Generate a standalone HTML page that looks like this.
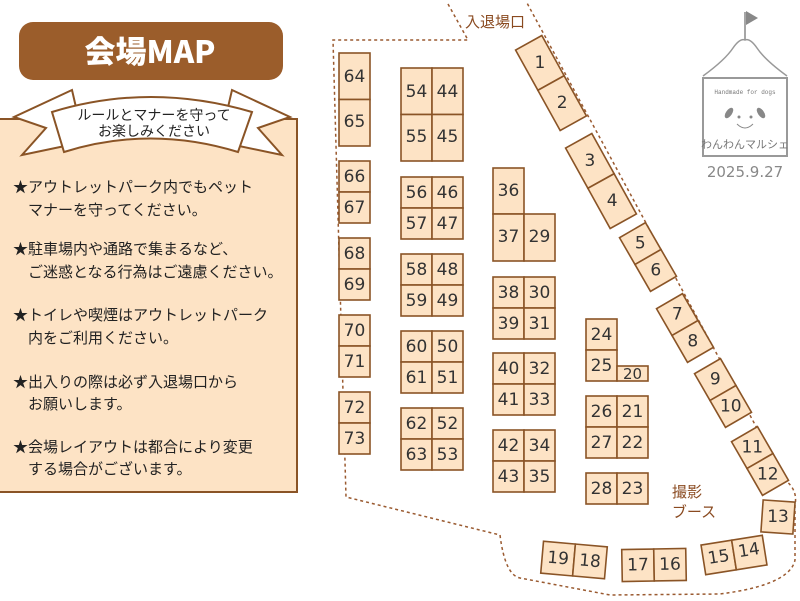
<!DOCTYPE html>
<html><head><meta charset="utf-8"><style>
html,body{margin:0;padding:0;background:#fff;}
svg{display:block;}
text{font-family:"Liberation Sans","Noto Sans CJK JP",sans-serif;}
.b{fill:#fde3c5;stroke:#8a5426;stroke-width:1.6;}
.n{font-size:17px;fill:#333;text-anchor:middle;dominant-baseline:central;font-family:"DejaVu Sans","Liberation Sans",sans-serif;}
.t{font-size:15px;fill:#222;font-family:"Noto Sans CJK JP",sans-serif;}
.d{fill:none;stroke:#9a5a30;stroke-width:1.5;stroke-dasharray:3 3;}
</style></head><body>
<svg width="800" height="601" viewBox="0 0 800 601" xmlns="http://www.w3.org/2000/svg">
<path class="d" d="M448 4 L468 40 L333 40 L346 497 L500 535 Q505 575 520 578 L610 595 L720 594 Q790 585 795 560 L795 505 Q798 490 785 480 L527 3"/>
<text x="465" y="27" style="font-size:15px;fill:#8a4a20;font-family:'Noto Sans CJK JP',sans-serif">入退場口</text>

<rect x="-2" y="119" width="299" height="373" fill="#fde3c5" stroke="#8a5426" stroke-width="2"/>
<rect x="19" y="22" width="264" height="58" rx="14" fill="#9b5d2b"/>
<text x="150" y="63" text-anchor="middle" style="font-size:31px;font-weight:900;fill:#fff;font-family:'Noto Sans CJK JP','Liberation Sans',sans-serif">会場MAP</text>
<path d="M72 90 L14 117 L46 128 L22 155 L84 142 Z" fill="#fff" stroke="#8a5426" stroke-width="2"/>
<path d="M232 90 L290 117 L258 128 L282 155 L220 142 Z" fill="#fff" stroke="#8a5426" stroke-width="2"/>
<path d="M52 112 Q150 82 252 112 L238 152 Q150 125 64 152 Z" fill="#fff" stroke="#8a5426" stroke-width="2"/>
<text x="154" y="120" text-anchor="middle" class="t" style="font-size:14px">ルールとマナーを守って</text>
<text x="154" y="136" text-anchor="middle" class="t" style="font-size:14px">お楽しみください</text>
<g class="t">
<text x="13" y="192">★アウトレットパーク内でもペット</text>
<text x="28" y="215">マナーを守ってください。</text>
<text x="13" y="254">★駐車場内や通路で集まるなど、</text>
<text x="28" y="277">ご迷惑となる行為はご遠慮ください。</text>
<text x="13" y="320">★トイレや喫煙はアウトレットパーク</text>
<text x="28" y="343">内をご利用ください。</text>
<text x="13" y="387">★出入りの際は必ず入退場口から</text>
<text x="28" y="409">お願いします。</text>
<text x="13" y="452">★会場レイアウトは都合により変更</text>
<text x="28" y="474">する場合がございます。</text>
</g>

<line x1="745" y1="12" x2="745" y2="40" stroke="#888" stroke-width="1.5"/>
<path d="M746 11 L758 18 L746 25 Z" fill="#888"/>
<path d="M703 76 Q725 60 733 48 Q740 38 745 40 Q750 38 757 48 Q765 60 787 76" fill="none" stroke="#999" stroke-width="1.5"/>
<rect x="703" y="78" width="84" height="78" fill="#fff" stroke="#999" stroke-width="2"/>
<text x="745" y="94" text-anchor="middle" style="font-size:6px;fill:#777;font-family:'Liberation Mono',monospace">Handmade for dogs</text>
<ellipse cx="729" cy="113" rx="3" ry="6" fill="#888" transform="rotate(35 729 113)"/>
<ellipse cx="761" cy="113" rx="3" ry="6" fill="#888" transform="rotate(-35 761 113)"/>
<circle cx="739" cy="117" r="1.5" fill="#888"/><circle cx="751" cy="117" r="1.5" fill="#888"/>
<path d="M737 124 Q745 132 753 124" fill="none" stroke="#888"/>
<text x="745" y="148" text-anchor="middle" style="font-size:11px;fill:#777;font-family:'Noto Sans CJK JP',sans-serif">わんわんマルシェ</text>
<text x="745" y="177" text-anchor="middle" style="font-size:15px;fill:#888;font-family:'DejaVu Sans',sans-serif">2025.9.27</text>

<text x="687" y="497" text-anchor="middle" style="font-size:15px;fill:#8a4a20;font-family:'Noto Sans CJK JP',sans-serif">撮影</text>
<text x="694" y="517" text-anchor="middle" style="font-size:15px;fill:#8a4a20;font-family:'Noto Sans CJK JP',sans-serif">ブース</text>

<g>
<rect class="b" x="339" y="53" width="31" height="46.5"/><rect class="b" x="339" y="99.5" width="31" height="46.5"/>
<text class="n" x="354.5" y="77">64</text><text class="n" x="354.5" y="122">65</text>
<rect class="b" x="339" y="161" width="31" height="31"/><rect class="b" x="339" y="192" width="31" height="31"/>
<text class="n" x="354.5" y="177">66</text><text class="n" x="354.5" y="208">67</text>
<rect class="b" x="339" y="238" width="31" height="31"/><rect class="b" x="339" y="269" width="31" height="31"/>
<text class="n" x="354.5" y="254">68</text><text class="n" x="354.5" y="285">69</text>
<rect class="b" x="339" y="315" width="31" height="31"/><rect class="b" x="339" y="346" width="31" height="31"/>
<text class="n" x="354.5" y="331">70</text><text class="n" x="354.5" y="362">71</text>
<rect class="b" x="339" y="392" width="31" height="31"/><rect class="b" x="339" y="423" width="31" height="31"/>
<text class="n" x="354.5" y="408">72</text><text class="n" x="354.5" y="439">73</text>

<rect class="b" x="401" y="68" width="31" height="46.5"/><rect class="b" x="432" y="68" width="31" height="46.5"/>
<rect class="b" x="401" y="114.5" width="31" height="46.5"/><rect class="b" x="432" y="114.5" width="31" height="46.5"/>
<text class="n" x="416.5" y="92">54</text><text class="n" x="447.5" y="92">44</text>
<text class="n" x="416.5" y="137">55</text><text class="n" x="447.5" y="137">45</text>

<rect class="b" x="401" y="177" width="31" height="31"/><rect class="b" x="432" y="177" width="31" height="31"/>
<rect class="b" x="401" y="208" width="31" height="31"/><rect class="b" x="432" y="208" width="31" height="31"/>
<text class="n" x="416.5" y="193">56</text><text class="n" x="447.5" y="193">46</text>
<text class="n" x="416.5" y="224">57</text><text class="n" x="447.5" y="224">47</text>

<rect class="b" x="401" y="254" width="31" height="31"/><rect class="b" x="432" y="254" width="31" height="31"/>
<rect class="b" x="401" y="285" width="31" height="31"/><rect class="b" x="432" y="285" width="31" height="31"/>
<text class="n" x="416.5" y="270">58</text><text class="n" x="447.5" y="270">48</text>
<text class="n" x="416.5" y="301">59</text><text class="n" x="447.5" y="301">49</text>

<rect class="b" x="401" y="331" width="31" height="31"/><rect class="b" x="432" y="331" width="31" height="31"/>
<rect class="b" x="401" y="362" width="31" height="31"/><rect class="b" x="432" y="362" width="31" height="31"/>
<text class="n" x="416.5" y="347">60</text><text class="n" x="447.5" y="347">50</text>
<text class="n" x="416.5" y="378">61</text><text class="n" x="447.5" y="378">51</text>

<rect class="b" x="401" y="408" width="31" height="31"/><rect class="b" x="432" y="408" width="31" height="31"/>
<rect class="b" x="401" y="439" width="31" height="31"/><rect class="b" x="432" y="439" width="31" height="31"/>
<text class="n" x="416.5" y="424">62</text><text class="n" x="447.5" y="424">52</text>
<text class="n" x="416.5" y="455">63</text><text class="n" x="447.5" y="455">53</text>

<rect class="b" x="493" y="168" width="31" height="46"/>
<text class="n" x="508.5" y="191">36</text>
<rect class="b" x="493" y="214" width="31" height="47"/><rect class="b" x="524" y="214" width="31" height="47"/>
<text class="n" x="508.5" y="237">37</text><text class="n" x="539.5" y="237">29</text>

<rect class="b" x="493" y="277" width="31" height="31"/><rect class="b" x="524" y="277" width="31" height="31"/>
<rect class="b" x="493" y="308" width="31" height="31"/><rect class="b" x="524" y="308" width="31" height="31"/>
<text class="n" x="508.5" y="293">38</text><text class="n" x="539.5" y="293">30</text>
<text class="n" x="508.5" y="324">39</text><text class="n" x="539.5" y="324">31</text>

<rect class="b" x="493" y="353" width="31" height="31"/><rect class="b" x="524" y="353" width="31" height="31"/>
<rect class="b" x="493" y="384" width="31" height="31"/><rect class="b" x="524" y="384" width="31" height="31"/>
<text class="n" x="508.5" y="369">40</text><text class="n" x="539.5" y="369">32</text>
<text class="n" x="508.5" y="400">41</text><text class="n" x="539.5" y="400">33</text>

<rect class="b" x="493" y="430" width="31" height="31"/><rect class="b" x="524" y="430" width="31" height="31"/>
<rect class="b" x="493" y="461" width="31" height="31"/><rect class="b" x="524" y="461" width="31" height="31"/>
<text class="n" x="508.5" y="446">42</text><text class="n" x="539.5" y="446">34</text>
<text class="n" x="508.5" y="477">43</text><text class="n" x="539.5" y="477">35</text>

<rect class="b" x="586" y="319" width="31" height="31"/><rect class="b" x="586" y="350" width="31" height="31"/>
<rect class="b" x="617" y="366" width="31" height="15"/>
<text class="n" x="601.5" y="335">24</text><text class="n" x="601.5" y="366">25</text>
<text class="n" x="632.5" y="374" style="font-size:15px">20</text>

<rect class="b" x="586" y="396" width="31" height="31"/><rect class="b" x="617" y="396" width="31" height="31"/>
<rect class="b" x="586" y="427" width="31" height="31"/><rect class="b" x="617" y="427" width="31" height="31"/>
<text class="n" x="601.5" y="412">26</text><text class="n" x="632.5" y="412">21</text>
<text class="n" x="601.5" y="443">27</text><text class="n" x="632.5" y="443">22</text>

<rect class="b" x="586" y="473" width="31" height="31"/><rect class="b" x="617" y="473" width="31" height="31"/>
<text class="n" x="601.5" y="489">28</text><text class="n" x="632.5" y="489">23</text>
</g>

<g transform="translate(551 83) rotate(-29)">
<rect class="b" x="-15" y="-46" width="30" height="46"/><rect class="b" x="-15" y="0" width="30" height="46"/>
<text class="n" x="0" y="-23" transform="rotate(29 0 -23)">1</text><text class="n" x="0" y="23" transform="rotate(29 0 23)">2</text>
</g>
<g transform="translate(601 181) rotate(-29)">
<rect class="b" x="-15" y="-46" width="30" height="46"/><rect class="b" x="-15" y="0" width="30" height="46"/>
<text class="n" x="0" y="-23" transform="rotate(29 0 -23)">3</text><text class="n" x="0" y="23" transform="rotate(29 0 23)">4</text>
</g>
<g transform="translate(648 257) rotate(-30)">
<rect class="b" x="-15" y="-31" width="30" height="31"/><rect class="b" x="-15" y="0" width="30" height="31"/>
<text class="n" x="0" y="-15.5" transform="rotate(30 0 -15.5)">5</text><text class="n" x="0" y="15.5" transform="rotate(30 0 15.5)">6</text>
</g>
<g transform="translate(685 328) rotate(-30)">
<rect class="b" x="-15" y="-31" width="30" height="31"/><rect class="b" x="-15" y="0" width="30" height="31"/>
<text class="n" x="0" y="-15.5" transform="rotate(30 0 -15.5)">7</text><text class="n" x="0" y="15.5" transform="rotate(30 0 15.5)">8</text>
</g>
<g transform="translate(723 393) rotate(-30)">
<rect class="b" x="-15" y="-31" width="30" height="31"/><rect class="b" x="-15" y="0" width="30" height="31"/>
<text class="n" x="0" y="-15.5" transform="rotate(30 0 -15.5)">9</text><text class="n" x="0" y="15.5" transform="rotate(30 0 15.5)">10</text>
</g>
<g transform="translate(760 461) rotate(-30)">
<rect class="b" x="-15" y="-31" width="30" height="31"/><rect class="b" x="-15" y="0" width="30" height="31"/>
<text class="n" x="0" y="-15.5" transform="rotate(30 0 -15.5)">11</text><text class="n" x="0" y="15.5" transform="rotate(30 0 15.5)">12</text>
</g>
<g transform="translate(778 517) rotate(4)">
<rect class="b" x="-16" y="-16" width="32" height="32"/><text class="n" x="0" y="0" transform="rotate(-4)">13</text>
</g>
<g transform="translate(734 555) rotate(-9)">
<rect class="b" x="-31" y="-15" width="31" height="30"/><rect class="b" x="0" y="-15" width="31" height="30"/>
<text class="n" x="-15.5" y="0">15</text><text class="n" x="15.5" y="-2">14</text>
</g>
<g transform="translate(654 565) rotate(-1)">
<rect class="b" x="-32" y="-16" width="32" height="32"/><rect class="b" x="0" y="-16" width="32" height="32"/>
<text class="n" x="-16" y="0">17</text><text class="n" x="16" y="0">16</text>
</g>
<g transform="translate(574 560) rotate(5)">
<rect class="b" x="-32" y="-16" width="32" height="32"/><rect class="b" x="0" y="-16" width="32" height="32"/>
<text class="n" x="-16" y="0">19</text><text class="n" x="16" y="0">18</text>
</g>
</svg>
</body></html>
